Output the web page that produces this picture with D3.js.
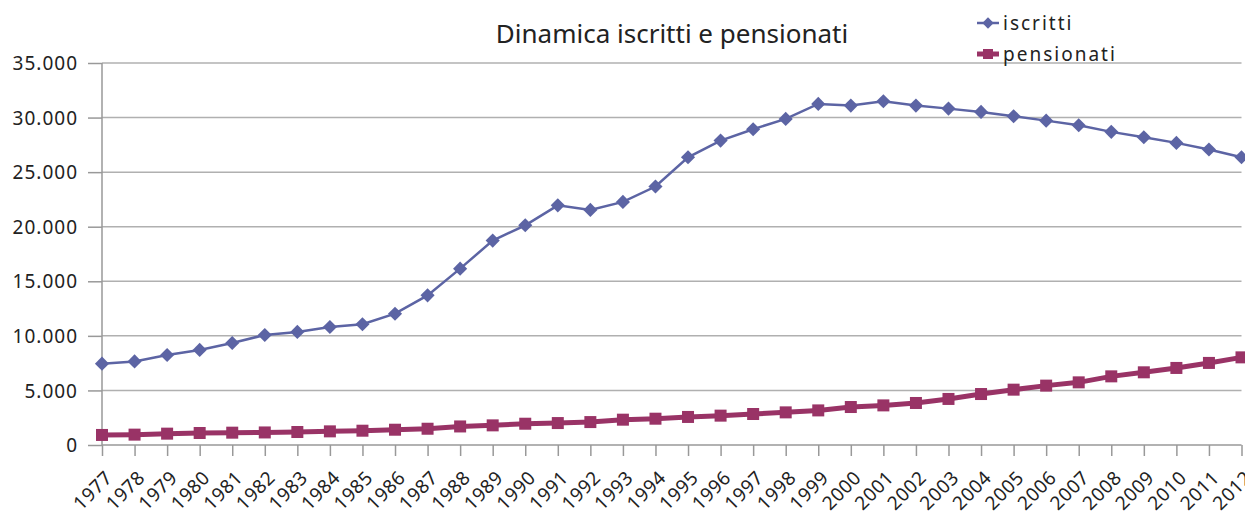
<!DOCTYPE html>
<html>
<head>
<meta charset="utf-8">
<title>Dinamica iscritti e pensionati</title>
<script src="https://cdn.jsdelivr.net/npm/d3@7"></script>
<style>
  body { margin: 0; background: #fff; }
  svg text { font-family: "Noto Sans", "Open Sans", sans-serif; fill: #222; }
  .grid line { stroke: #b0b0b0; stroke-width: 1.5; }
  .axis path, .axis line { stroke: #999; stroke-width: 1.5; }
</style>
</head>
<body>
<div id="graphe"></div>
<script>
  // anni
  var anni = [1977, 1978, 1979, 1980, 1981, 1982, 1983, 1984, 1985, 1986,
              1987, 1988, 1989, 1990, 1991, 1992, 1993, 1994, 1995, 1996,
              1997, 1998, 1999, 2000, 2001, 2002, 2003, 2004, 2005, 2006,
              2007, 2008, 2009, 2010, 2011, 2012];

  // valori
  var iscritti = [7450, 7660, 8250, 8710, 9350, 10080, 10360, 10810, 11060, 12030,
                  13710, 16160, 18730, 20130, 21960, 21540, 22270, 23680, 26360, 27890,
                  28930, 29880, 31250, 31100, 31500, 31100, 30820, 30520, 30120, 29720,
                  29300, 28690, 28200, 27680, 27070, 26360];

  var pensionati = [920, 950, 1040, 1100, 1130, 1150, 1190, 1250, 1310, 1400,
                    1490, 1700, 1800, 1950, 2010, 2100, 2320, 2410, 2570, 2690,
                    2840, 2990, 3170, 3480, 3630, 3850, 4220, 4670, 5070, 5440,
                    5740, 6290, 6660, 7060, 7520, 8030];

  var yTicks = [0, 5000, 10000, 15000, 20000, 25000, 30000, 35000];

  var width = 1245, height = 512;
  var margin = {top: 63, right: 3.5, bottom: 67, left: 102};

  var svg = d3.select("#graphe").append("svg")
    .attr("width", width)
    .attr("height", height);

  var x = d3.scalePoint()
    .domain(anni)
    .range([margin.left, width - margin.right]);

  var y = d3.scaleLinear()
    .domain([0, 35000])
    .range([height - margin.bottom, margin.top]);

  var fmt = function(d) {
    return d3.format(",")(d).replace(/,/g, ".");
  };

  // griglia orizzontale
  svg.append("g").attr("class", "grid")
    .selectAll("line")
    .data(yTicks.slice(1))
    .enter().append("line")
    .attr("x1", margin.left)
    .attr("x2", width - margin.right)
    .attr("y1", function(d) { return y(d); })
    .attr("y2", function(d) { return y(d); });

  // asse y
  var yAxis = svg.append("g").attr("class", "axis")
    .attr("transform", "translate(" + margin.left + ",0)")
    .call(d3.axisLeft(y).tickValues(yTicks).tickFormat(fmt).tickSize(14).tickSizeOuter(0).tickPadding(10));
  yAxis.select(".domain").attr("d", "M0," + y(35000) + "V" + y(0));
  yAxis.selectAll("text")
    .attr("dy", "0.35em")
    .style("font-size", "19px")
    .style("letter-spacing", "1px");

  // asse x
  var xAxis = svg.append("g").attr("class", "axis")
    .attr("transform", "translate(0," + y(0) + ")")
    .call(d3.axisBottom(x).tickSize(11).tickSizeOuter(0));
  xAxis.select(".domain").attr("d", "M" + margin.left + ",0H" + (width - margin.right));
  xAxis.selectAll("text")
    .attr("text-anchor", "end")
    .attr("x", 0)
    .attr("y", 0)
    .attr("dy", 0)
    .attr("transform", "translate(11,34) rotate(-45)")
    .style("font-size", "19px")
    .style("letter-spacing", "0.5px");

  // linee
  var line = function(vals) {
    return d3.line()
      .x(function(d, i) { return x(anni[i]); })
      .y(function(d) { return y(d); })(vals);
  };

  var colIscritti = "#5c64a4", colPensionati = "#993366";

  svg.append("path")
    .attr("d", line(iscritti))
    .attr("fill", "none")
    .attr("stroke", colIscritti)
    .attr("stroke-width", 2.5);

  svg.append("path")
    .attr("d", line(pensionati))
    .attr("fill", "none")
    .attr("stroke", colPensionati)
    .attr("stroke-width", 5);

  var diamond = d3.symbol().type(d3.symbolSquare).size(100);

  svg.append("g").selectAll("path")
    .data(iscritti)
    .enter().append("path")
    .attr("d", diamond)
    .attr("fill", colIscritti)
    .attr("transform", function(d, i) {
      return "translate(" + x(anni[i]) + "," + y(d) + ") rotate(45)";
    });

  svg.append("g").selectAll("rect")
    .data(pensionati)
    .enter().append("rect")
    .attr("x", function(d, i) { return x(anni[i]) - 6; })
    .attr("y", function(d) { return y(d) - 6; })
    .attr("width", 12)
    .attr("height", 12)
    .attr("fill", colPensionati);

  // titolo
  svg.append("text")
    .attr("x", 672)
    .attr("y", 43)
    .attr("text-anchor", "middle")
    .style("font-size", "26px")
    .text("Dinamica iscritti e pensionati");

  // legenda
  var leg = svg.append("g");
  leg.append("line")
    .attr("x1", 977).attr("x2", 999)
    .attr("y1", 23).attr("y2", 23)
    .attr("stroke", colIscritti).attr("stroke-width", 2.5);
  leg.append("path")
    .attr("d", d3.symbol().type(d3.symbolSquare).size(64))
    .attr("fill", colIscritti)
    .attr("transform", "translate(988,23) rotate(45)");
  leg.append("text")
    .attr("x", 1003).attr("y", 30)
    .style("font-size", "19px")
    .style("letter-spacing", "2px")
    .text("iscritti");

  leg.append("line")
    .attr("x1", 977).attr("x2", 999)
    .attr("y1", 54).attr("y2", 54)
    .attr("stroke", colPensionati).attr("stroke-width", 5);
  leg.append("rect")
    .attr("x", 983).attr("y", 49)
    .attr("width", 10).attr("height", 10)
    .attr("fill", colPensionati);
  leg.append("text")
    .attr("x", 1003).attr("y", 61)
    .style("font-size", "19px")
    .style("letter-spacing", "2px")
    .text("pensionati");
</script>
</body>
</html>
